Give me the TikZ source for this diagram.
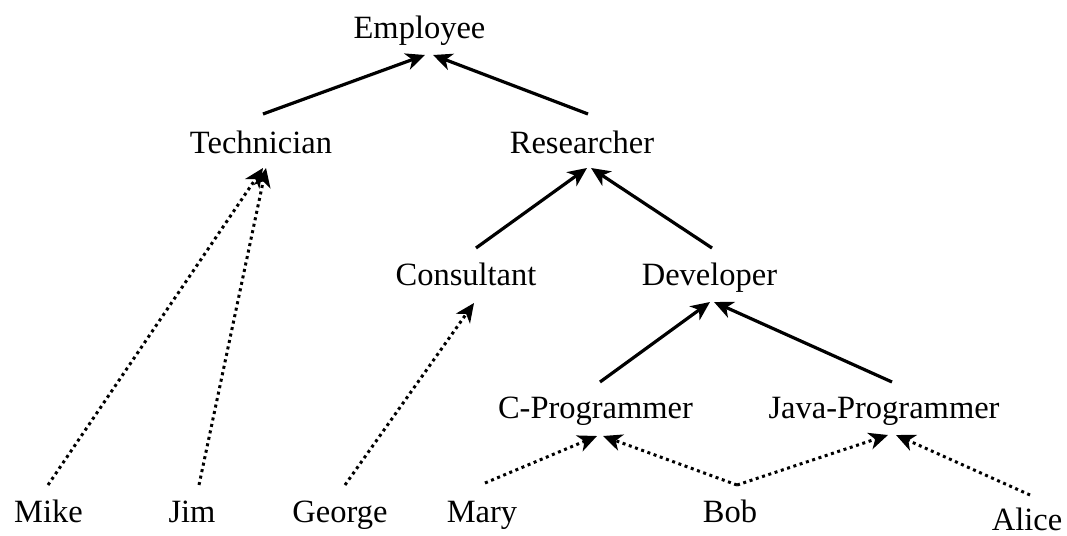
\documentclass[tikz,border=0pt]{standalone}
\usepackage{fontspec}
\setmainfont{Liberation Serif}
\usetikzlibrary{arrows.meta}

\begin{document}
\begin{tikzpicture}[
    x=1pt, y=-1pt,
    lbl/.style={anchor=base, inner sep=0pt, font=\fontsize{32.5}{39}\selectfont},
    isa/.style={line width=3.2pt, arrows={-Stealth[length=19pt, width=17pt, inset=5.5pt]}},
    inst/.style={line width=3pt, dash pattern=on 3pt off 3.6pt,
                 arrows={-Stealth[length=19pt, width=17pt, inset=5.5pt]}},
  ]
  \useasboundingbox (0,0) rectangle (1067,535);

  % classes
  \node[lbl] (Employee)   at (419.5,38)  {Employee};
  \node[lbl] (Technician) at (261,153)   {Technician};
  \node[lbl] (Researcher) at (582,153)   {Researcher};
  \node[lbl] (Consultant) at (466,285)   {Consultant};
  \node[lbl] (Developer)  at (709.5,285) {Developer};
  \node[lbl] (CProg)      at (595.5,418) {C-Programmer};
  \node[lbl] (JavaProg)   at (884,418)   {Java-Programmer};

  % instances
  \node[lbl] (Mike)   at (48.5,522) {Mike};
  \node[lbl] (Jim)    at (192,522)  {Jim};
  \node[lbl] (George) at (340,522)  {George};
  \node[lbl] (Mary)   at (482,522)  {Mary};
  \node[lbl] (Bob)    at (730,522)  {Bob};
  \node[lbl] (Alice)  at (1027,530) {Alice};

  % subclass links
  \draw[isa] ([shift={(2,-39)}]Technician.base) -- ([shift={(5.5,17)}]Employee.base);
  \draw[isa] ([shift={(6,-39)}]Researcher.base) -- ([shift={(13.5,17)}]Employee.base);
  \draw[isa] ([shift={(10,-37)}]Consultant.base) -- ([shift={(5,15)}]Researcher.base);
  \draw[isa] ([shift={(2.5,-37)}]Developer.base) -- ([shift={(9,15)}]Researcher.base);
  \draw[isa] ([shift={(4.5,-36)}]CProg.base) -- ([shift={(0.5,17)}]Developer.base);
  \draw[isa] ([shift={(8,-36)}]JavaProg.base) -- ([shift={(4.5,17)}]Developer.base);

  % instance links
  \draw[inst] ([shift={(-0.5,-37)}]Mike.base) -- ([shift={(2,15)}]Technician.base);
  \draw[inst] ([shift={(7,-37)}]Jim.base) -- ([shift={(5,15)}]Technician.base);
  \draw[inst] ([shift={(5,-37)}]George.base) -- ([shift={(8,18)}]Consultant.base);
  \draw[inst] ([shift={(3,-39)}]Mary.base) -- ([shift={(1.5,18)}]CProg.base);
  \draw[inst] ([shift={(7,-37)}]Bob.base) -- ([shift={(7.5,18)}]CProg.base);
  \draw[inst] ([shift={(7,-37)}]Bob.base) -- ([shift={(4,17)}]JavaProg.base);
  \draw[inst] ([shift={(3,-35)}]Alice.base) -- ([shift={(12,17)}]JavaProg.base);
\end{tikzpicture}
\end{document}
